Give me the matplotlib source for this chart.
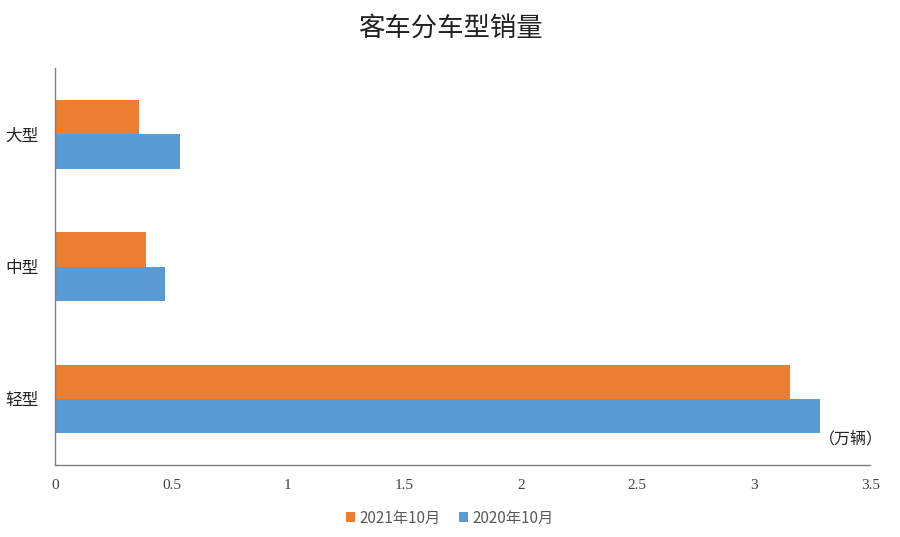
import numpy as np
import matplotlib.pyplot as plt

plt.rcParams['font.family'] = ['Noto Sans CJK SC', 'DejaVu Sans']

categories = ['轻型', '中型', '大型']
sales_2021 = [3.155, 0.39, 0.36]
sales_2020 = [3.283, 0.472, 0.535]
xticks = [0, 0.5, 1, 1.5, 2, 2.5, 3, 3.5]
xtick_labels = ['0', '0.5', '1', '1.5', '2', '2.5', '3', '3.5']

fig = plt.figure(figsize=(9, 5.37), dpi=100)
ax = fig.add_axes([0.061, 0.134, 0.906, 0.739])

y = np.arange(len(categories))
h = 0.26
ax.barh(y + h / 2, sales_2021, height=h, color='#ED7D31', label='2021年10月')
ax.barh(y - h / 2, sales_2020, height=h, color='#5B9BD5', label='2020年10月')

ax.set_xlim(0, 3.5)
ax.set_ylim(-0.5, 2.5)
ax.set_yticks(y)
ax.set_yticklabels(categories, fontsize=12, color='#222222')
ax.set_xticks(xticks)
ax.set_xticklabels(xtick_labels, fontsize=11, color='#404040', family='Liberation Serif')
ax.tick_params(length=0, pad=10)
ax.tick_params(axis='y', pad=12)

for s in ['top', 'right']:
    ax.spines[s].set_visible(False)
for s in ['left', 'bottom']:
    ax.spines[s].set_color('#808080')
    ax.spines[s].set_linewidth(1)

ax.text(0.976, 0.065, '（万辆）', transform=ax.transAxes, ha='center', va='center',
        fontsize=11.5, color='#222222')

fig.text(0.5, 0.948, '客车分车型销量', ha='center', va='center', fontsize=19, color='#222222')

fig.legend(loc='center', bbox_to_anchor=(0.5, 0.035), ncol=2, frameon=False,
           fontsize=11, handlelength=0.6, handleheight=0.6, handletextpad=0.3,
           columnspacing=1.2, labelcolor='#595959')

fig.savefig('out.png', dpi=100)
